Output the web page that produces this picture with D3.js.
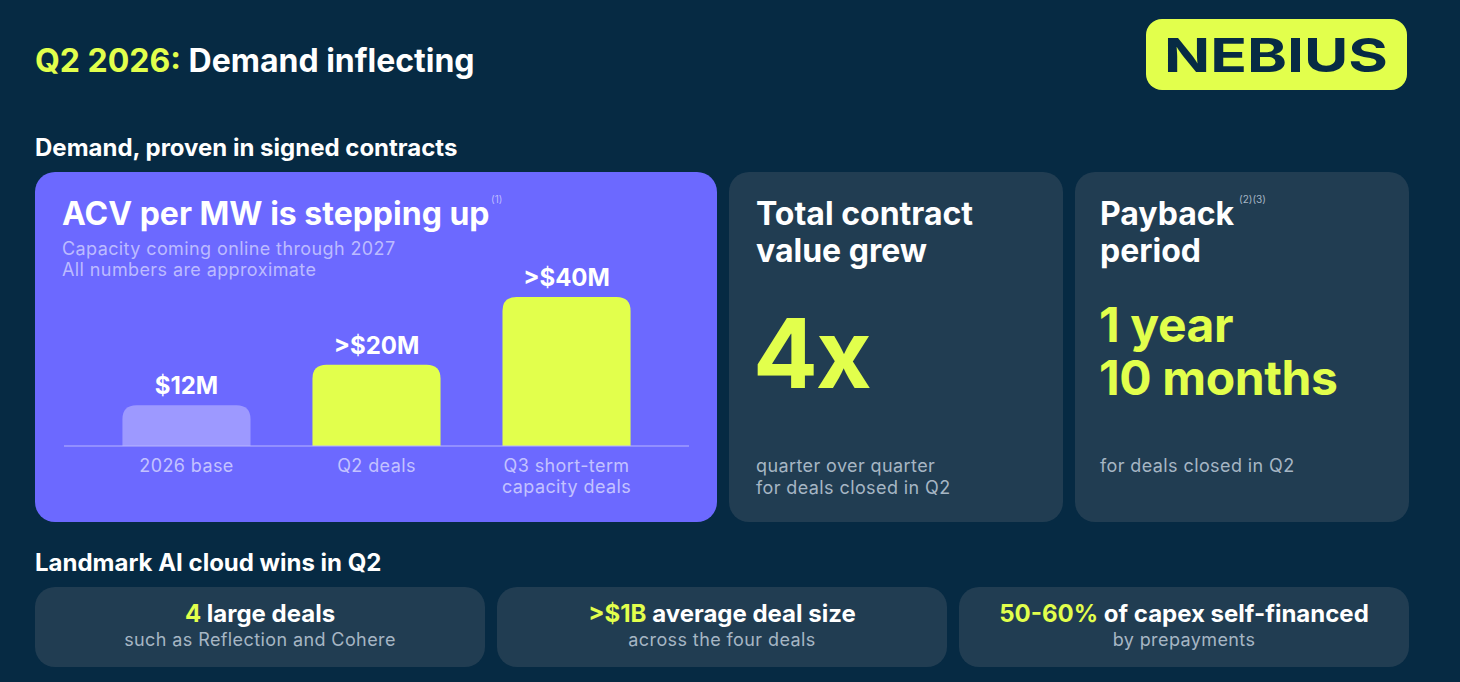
<!DOCTYPE html>
<html>
<head>
<meta charset="utf-8">
<script src="https://cdn.jsdelivr.net/npm/d3@7"></script>
<style>
  html, body { margin: 0; padding: 0; background: #062a43; }
  svg { display: block; }
  text { font-family: Inter, "Noto Sans", sans-serif; }
</style>
</head>
<body>
<div id="chart"></div>
<script>
// bar chart data (ACV per MW, $M) - heights
var categories = ["2026 base", "Q2 deals", "Q3 short-term\ncapacity deals"];
var values = [12, 24, 44];
var value_labels = ["$12M", ">$20M", ">$40M"];

// bottom cards
var win_highlights = ["4", ">$1B", "50-60%"];
var win_titles = [" large deals", " average deal size", " of capex self-financed"];
var win_subtitles = ["such as Reflection and Cohere", "across the four deals", "by prepayments"];

var LIME = "#e2ff4c";
var CARD = "#213d52";
var PURPLE = "#6c69ff";
var MUTED = "#a6b6c4";

var width = 1460, height = 682;

var svg = d3.select("#chart")
    .append("svg")
    .attr("width", width)
    .attr("height", height);

svg.append("rect")
    .attr("width", width)
    .attr("height", height)
    .attr("fill", "#062a43");

function addText(x, y, str, size, weight, color, anchor) {
    return svg.append("text")
        .attr("x", x)
        .attr("y", y)
        .attr("text-anchor", anchor || "start")
        .style("fill", color)
        .style("font-size", size + "px")
        .style("font-weight", weight)
        .text(str);
}

// small body text is a bit wider in the original font
function addSmall(x, y, str, color, anchor) {
    return addText(x, y, str, 18, 400, color, anchor).style("letter-spacing", "0.4px");
}

// title
var title = svg.append("text")
    .attr("x", 35)
    .attr("y", 72)
    .style("font-size", "32px")
    .style("font-weight", 700);
title.append("tspan").style("fill", LIME).text("Q2 2026:");
title.append("tspan").style("fill", "white").text(" Demand inflecting");

// logo
svg.append("rect")
    .attr("x", 1146)
    .attr("y", 19)
    .attr("width", 261)
    .attr("height", 71)
    .attr("rx", 16)
    .attr("fill", LIME);
svg.append("text")
    .attr("x", 1164)
    .attr("y", 72)
    .attr("textLength", 224)
    .attr("lengthAdjust", "spacingAndGlyphs")
    .style("fill", "#072b44")
    .style("font-size", "47px")
    .style("font-weight", 700)
    .text("NEBIUS");

// section headers
addText(35, 156, "Demand, proven in signed contracts", 24, 700, "white");
addText(35, 571, "Landmark AI cloud wins in Q2", 24, 700, "white");

// top panels
svg.append("rect")
    .attr("x", 35).attr("y", 172)
    .attr("width", 682).attr("height", 350)
    .attr("rx", 20)
    .attr("fill", PURPLE);

var side_cards = [729, 1075];
svg.selectAll(".side_card")
    .data(side_cards)
    .enter()
    .append("rect")
    .attr("class", "side_card")
    .attr("x", function (d) { return d; })
    .attr("y", 172)
    .attr("width", 334)
    .attr("height", 350)
    .attr("rx", 20)
    .attr("fill", CARD);

// bar panel text
addText(62, 225, "ACV per MW is stepping up", 32, 700, "white");
addText(491, 203, "(1)", 10, 400, "#bdbcff");
addSmall(62, 255, "Capacity coming online through 2027", "#bcbbff");
addSmall(62, 276, "All numbers are approximate", "#bcbbff");

// bar chart
var x = d3.scaleBand()
    .domain(categories)
    .range([64, 689])
    .paddingInner(0.326)
    .paddingOuter(0.3075);

var y = d3.scaleLinear()
    .domain([0, 44])
    .range([446, 297]);

var bar_data = categories.map(function (c, i) {
    return { cat: c, value: values[i], label: value_labels[i] };
});

function topRoundedBar(d) {
    var x0 = x(d.cat), w = x.bandwidth(), y0 = y(d.value), y1 = y(0);
    var r = Math.min(14, (y1 - y0));
    return "M" + x0 + "," + y1 +
        "V" + (y0 + r) +
        "Q" + x0 + "," + y0 + " " + (x0 + r) + "," + y0 +
        "H" + (x0 + w - r) +
        "Q" + (x0 + w) + "," + y0 + " " + (x0 + w) + "," + (y0 + r) +
        "V" + y1 + "Z";
}

svg.selectAll(".bar")
    .data(bar_data)
    .enter()
    .append("path")
    .attr("class", "bar")
    .attr("d", topRoundedBar)
    .attr("fill", function (d, i) { return i === 0 ? "#9d99ff" : LIME; });

svg.append("line")
    .attr("x1", 64).attr("x2", 689)
    .attr("y1", y(0)).attr("y2", y(0))
    .attr("stroke", "#b8b6ff")
    .attr("stroke-width", 1.2);

svg.selectAll(".bar_label")
    .data(bar_data)
    .enter()
    .append("text")
    .attr("class", "bar_label")
    .attr("x", function (d) { return x(d.cat) + x.bandwidth() / 2; })
    .attr("y", function (d) { return y(d.value) - 11; })
    .attr("text-anchor", "middle")
    .style("fill", "white")
    .style("font-size", "24px")
    .style("font-weight", 700)
    .text(function (d) { return d.label; });

var cat_labels = svg.selectAll(".cat_label")
    .data(bar_data)
    .enter()
    .append("text")
    .attr("class", "cat_label")
    .attr("x", function (d) { return x(d.cat) + x.bandwidth() / 2; })
    .attr("y", 472)
    .attr("text-anchor", "middle")
    .style("fill", "#c3c2ff")
    .style("font-size", "18px")
    .style("letter-spacing", "0.4px");
cat_labels.each(function (d) {
    var el = d3.select(this);
    d.cat.split("\n").forEach(function (line, i) {
        el.append("tspan")
            .attr("x", x(d.cat) + x.bandwidth() / 2)
            .attr("dy", i === 0 ? 0 : 21)
            .text(line);
    });
});

// total contract value card
addText(756, 225, "Total contract", 32, 700, "white");
addText(756, 262, "value grew", 32, 700, "white");
addText(753, 388, "4x", 96, 700, LIME).style("letter-spacing", "-2px");
addSmall(756, 472, "quarter over quarter", MUTED);
addSmall(756, 494, "for deals closed in Q2", MUTED);

// payback card
addText(1100, 225, "Payback", 32, 700, "white");
addText(1239, 203, "(2)(3)", 10, 400, MUTED);
addText(1100, 262, "period", 32, 700, "white");
var payback = svg.append("text")
    .attr("y", 342)
    .style("fill", LIME)
    .style("font-size", "48px")
    .style("font-weight", 700)
    .style("letter-spacing", "-0.4px");
payback.append("tspan").attr("x", 1099).text("1 year");
payback.append("tspan").attr("x", 1099).attr("dy", 53).text("10 months");
addSmall(1100, 472, "for deals closed in Q2", MUTED);

// bottom cards
var card_x = [35, 497, 959];
var card_w = 450;

svg.selectAll(".win_card")
    .data(card_x)
    .enter()
    .append("rect")
    .attr("class", "win_card")
    .attr("x", function (d) { return d; })
    .attr("y", 587)
    .attr("width", card_w)
    .attr("height", 80)
    .attr("rx", 20)
    .attr("fill", CARD);

card_x.forEach(function (cx, i) {
    var t = svg.append("text")
        .attr("x", cx + card_w / 2)
        .attr("y", 622)
        .attr("text-anchor", "middle")
        .style("font-size", "24px")
        .style("font-weight", 700);
    t.append("tspan").style("fill", LIME).text(win_highlights[i]);
    t.append("tspan").style("fill", "white").text(win_titles[i]);

    addSmall(cx + card_w / 2, 646, win_subtitles[i], MUTED, "middle");
});
</script>
</body>
</html>
